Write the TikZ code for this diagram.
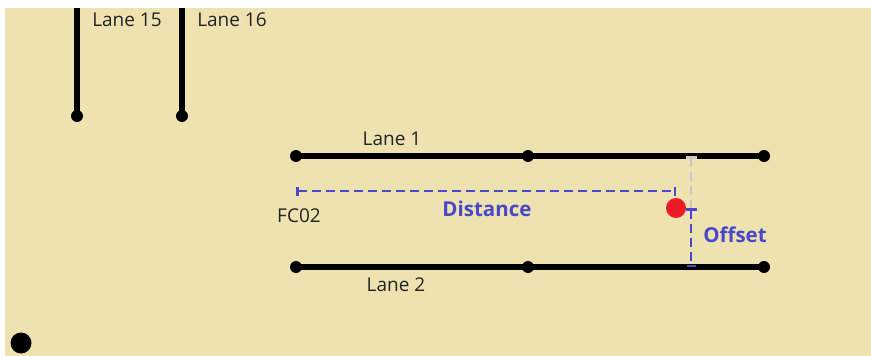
\documentclass[tikz,border=0pt]{standalone}
\usepackage{fontspec}
\setmainfont{Open Sans}
\usetikzlibrary{arrows.meta}
\definecolor{bgbeige}{RGB}{238,226,176}
\definecolor{dimblue}{RGB}{72,72,204}
\definecolor{dimgray}{RGB}{200,200,200}
\definecolor{pointred}{RGB}{237,28,36}
\definecolor{lbltext}{RGB}{35,35,35}

\begin{document}
\begin{tikzpicture}[x=1pt,y=-1pt]
    % Define style for the lanes, joints, labels and dimension lines
    \tikzstyle{joint} = [circle, fill=black, inner sep=0pt, minimum size=12pt]
    \tikzstyle{lane} = [line width=6pt]
    \tikzstyle{lbl} = [font=\fontsize{19}{22}\selectfont, text=lbltext, inner sep=0pt]
    \tikzstyle{dimlbl} = [font=\fontsize{20.5}{24}\selectfont\bfseries, text=dimblue, inner sep=0pt]
    \tikzstyle{dimline} = [line width=2.5pt, dash pattern=on 9pt off 5pt]

    % Background
    \useasboundingbox (0,0) rectangle (871,356);
    \fill[bgbeige] (5,8) rectangle (871,356);

    % Draw the vertical lanes at the top
    \foreach \x/\n in {77/15,182/16} {
        \coordinate (top\n) at (\x,8);
        \node[joint] (end\n) at (\x,116) {};
        \draw[lane] (top\n) -- (end\n.center);
    }
    \node[lbl] (lane15lbl) at (127,20) {Lane 15};
    \node[lbl] (lane16lbl) at (232,20) {Lane 16};

    % Draw the joints of lane 1 and lane 2
    \foreach \x [count=\i] in {296,528,764} {
        \node[joint] (a\i) at (\x,156) {};
        \node[joint] (b\i) at (\x,267) {};
    }

    % Draw the lanes between the joints
    \foreach \i/\j in {1/2,2/3} {
        \draw[lane] (a\i.center) -- (a\j.center);
        \draw[lane] (b\i.center) -- (b\j.center);
    }
    \node[lbl] (lane1lbl) at (392,139) {Lane 1};
    \node[lbl] (lane2lbl) at (396,285) {Lane 2};
    \node[lbl] (fclbl) at (299,216) {FC02};

    % Draw the point and the origin
    \node[circle, fill=pointred, inner sep=0pt, minimum size=20pt] (pt) at (676,208) {};
    \node[circle, fill=black, inner sep=0pt, minimum size=21pt] (origin) at (21,343) {};

    % Draw the distance along the lane
    \coordinate (dstart) at (296,191);
    \coordinate (dend) at (676,191);
    \draw[dimline, draw=dimblue, {Bar[width=9pt]}-{Bar[width=9pt]}] (dstart) -- (dend);
    \node[dimlbl] (distlbl) at (487,209) {Distance};

    % Draw the offset from the lane
    \coordinate (otop) at (691,156);
    \coordinate (omid) at (691,208);
    \coordinate (obot) at (691,267);
    \draw[dimline, draw=dimgray, {Bar[width=11pt]}-] (otop) -- (omid);
    \draw[dimline, draw=dimblue, {Bar[width=11pt]}-{Bar[width=9pt]}] (omid) -- (obot);
    \node[dimlbl] (offlbl) at (735,235) {Offset};
\end{tikzpicture}
\end{document}
